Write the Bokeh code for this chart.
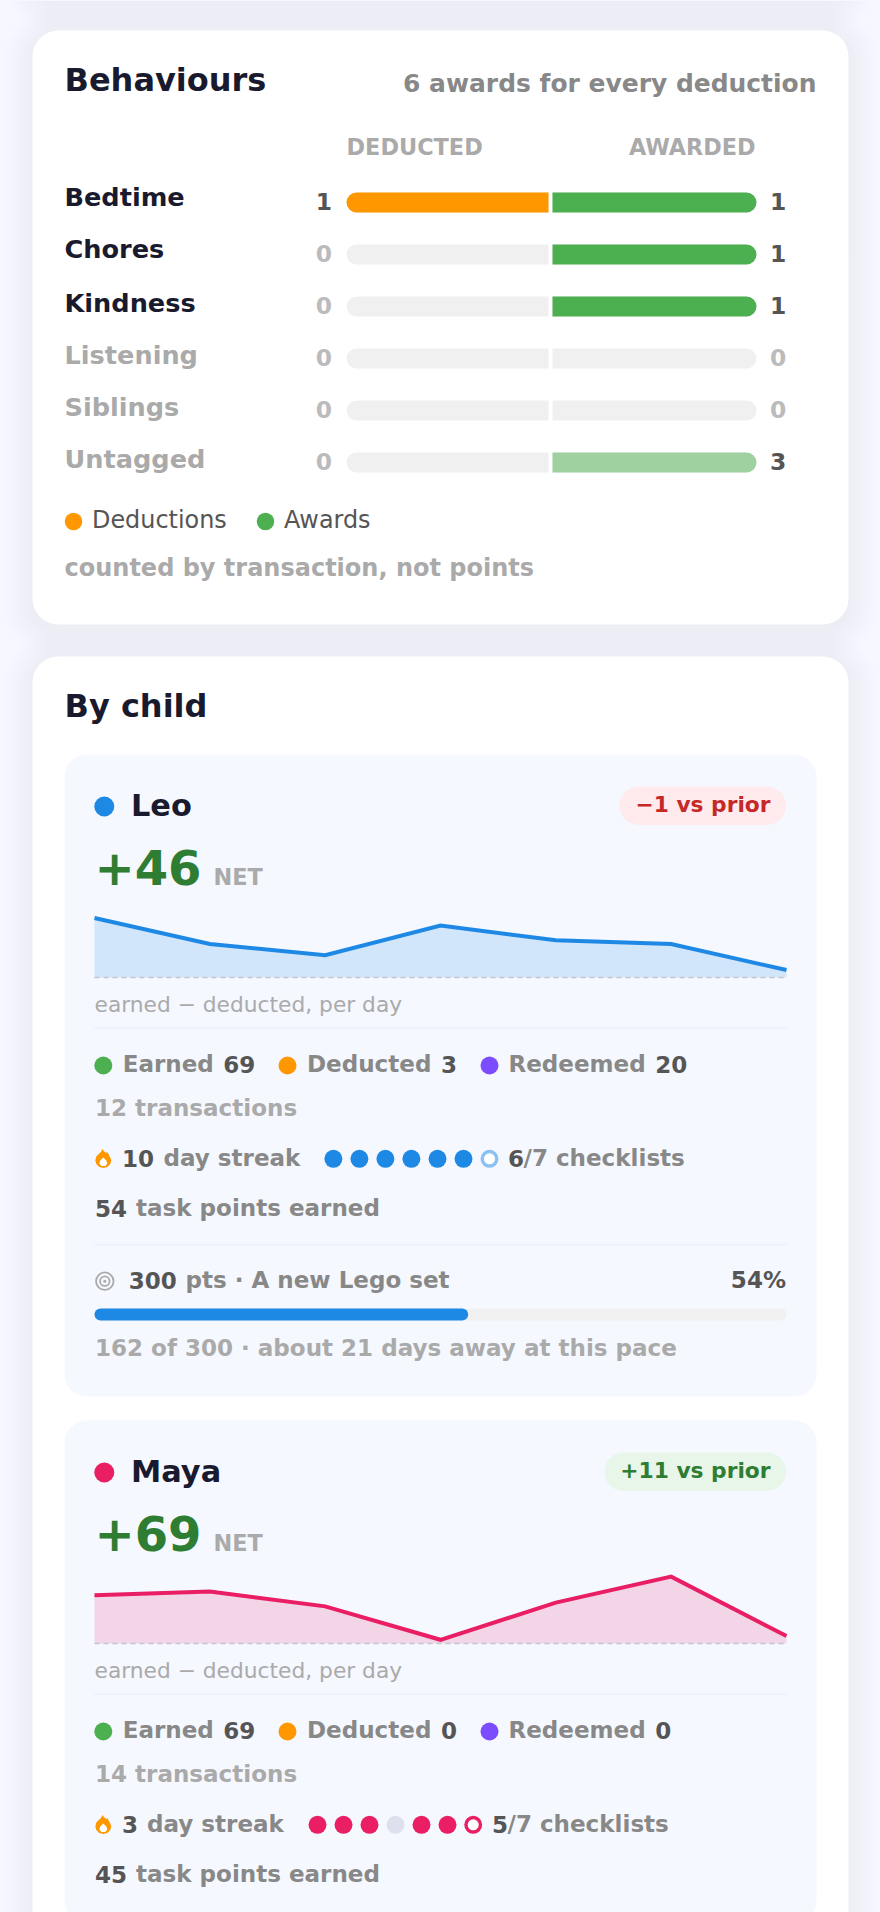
from bokeh.plotting import figure
from bokeh.embed import file_html
from bokeh.resources import INLINE
from bokeh.models import Range1d
from bokeh.core.properties import value

# ---- data ----
behaviours = ["Bedtime", "Chores", "Kindness", "Listening", "Siblings", "Untagged"]
deducted = [1, 0, 0, 0, 0, 0]
awarded = [1, 1, 1, 0, 0, 3]
ratio_note = "6 awards for every deduction"
days = [0, 1, 2, 3, 4, 5, 6]
leo_daily = [16, 9, 6, 14, 10, 9, 2]
maya_daily = [13, 14, 10, 1, 11, 18, 2]
leo_stats = {"net": "+46", "vs": "\u22121 vs prior", "earned": 69, "deducted": 3, "redeemed": 20,
             "tx": "12 transactions", "streak": "10", "checks": "6", "task": "54"}
maya_stats = {"net": "+69", "vs": "+11 vs prior", "earned": 69, "deducted": 0, "redeemed": 0,
              "tx": "14 transactions", "streak": "3", "checks": "5", "task": "45"}
leo_check_days = [1, 1, 1, 1, 1, 1, 0]
maya_check_days = [1, 1, 1, 0, 1, 1, 0]
goal_points = 162
goal_target = 300

BG = "#f7f8ff"; INNER = "#f5f8ff"; DARK = "#1a1a2e"; MUTE = "#aaaaaa"; MID = "#888888"; NUM = "#555555"
ORANGE = "#ff9800"; GREEN = "#4caf50"; PURPLE = "#7c4dff"; BLUE = "#1e88e5"; PINK = "#e91e63"
TRACK = "#f0f0f0"; RULE = "#eef0f7"; FG = "#2e7d32"
FONT = value("DejaVu Sans")
S = 23.04  # small bold text size

p = figure(width=880, height=1912, output_backend="svg", toolbar_location=None,
           x_range=Range1d(0, 880), y_range=Range1d(1912, 0), min_border=0,
           background_fill_color=BG, border_fill_color=BG, outline_line_color=None)
p.axis.visible = False
p.grid.visible = False

p.extra_x_ranges["ded"] = Range1d(548 / 202, (548 - 880) / 202)
p.extra_x_ranges["awd"] = Range1d(-552 / 204, (880 - 552) / 204)
p.extra_y_ranges["row"] = Range1d((1912 - 202) / 52, -202 / 52)
p.extra_x_ranges["day"] = Range1d(-94 / (692 / 6), (880 - 94) / (692 / 6))
p.extra_x_ranges["goal"] = Range1d(-94 / 692 * goal_target, (880 - 94) / 692 * goal_target)


def T(x, y, s, size, color, bold=True, align="left"):
    # the y given is the wanted baseline; Bokeh's SVG text sits 0.346 em below its anchor
    p.text(x=[x], y=[y - 0.346 * size], text=[s], text_font=FONT, text_font_size=value(f"{size}px"),
           text_color=color, text_font_style="bold" if bold else "normal",
           text_align=align, text_baseline="alphabetic")


def box(l, r, t, b, color, radius=0, alpha=1.0):
    p.quad(left=[l], right=[r], top=[t], bottom=[b], fill_color=color, fill_alpha=alpha,
           line_color=None, border_radius=radius)


def shadow(l, r, t, b):
    for d in range(30, 0, -3):
        box(l - d, r + d, t - d + 5, b + d + 5, "#2a2f66", 26 + d, 0.0045)


# ---- cards ----
shadow(32, 848, -300, -2)
box(32, 848, -300, -2, "#ffffff", 26)
shadow(32, 848, 30, 624)
box(32, 848, 30, 624, "#ffffff", 26)
shadow(32, 848, 656, 2400)
box(32, 848, 656, 2400, "#ffffff", 26)

# ---- behaviours ----
T(64, 91, "Behaviours", 32, DARK)
T(816, 92, ratio_note, 24.96, MID, align="right")
T(346, 154, "DEDUCTED", 22.4, MUTE)
T(628.5, 154, "AWARDED", 22.3, MUTE)

rows = list(range(len(behaviours)))
LBL_BASE = [205.5, 257.5, 311, 363.5, 415.5, 467.5]
for i in rows:
    active = deducted[i] + awarded[i] > 0 and behaviours[i] != "Untagged"
    T(64, LBL_BASE[i], behaviours[i], 25.6, DARK if active else MUTE)
    vy = 208.7 + 52 * i
    T(331.5, vy, str(deducted[i]), 23.4, NUM if deducted[i] else "#bbbbbb", align="right")
    T(769.5, vy, str(awarded[i]), 23.4, NUM if awarded[i] else "#bbbbbb")

p.hbar(y=rows, left=0, right=1, height=20 / 52, fill_color=TRACK, line_color=None,
       x_range_name="ded", y_range_name="row", border_radius=(10, 0, 0, 10))
p.hbar(y=rows, left=0, right=1, height=20 / 52, fill_color=TRACK, line_color=None,
       x_range_name="awd", y_range_name="row", border_radius=(0, 10, 10, 0))
for i in rows:
    if deducted[i]:
        p.hbar(y=[i], left=0, right=min(deducted[i], 1), height=20 / 52, fill_color=ORANGE, line_color=None,
               x_range_name="ded", y_range_name="row", border_radius=(10, 0, 0, 10))
    if awarded[i]:
        p.hbar(y=[i], left=0, right=min(awarded[i], 1), height=20 / 52, fill_color=GREEN, line_color=None,
               fill_alpha=0.5 if behaviours[i] == "Untagged" else 1.0,
               x_range_name="awd", y_range_name="row", border_radius=(0, 10, 10, 0))

p.scatter(x=[73], y=[521], size=17.5, fill_color=ORANGE, line_color=None)
T(91.5, 527.3, "Deductions", 23.9, NUM, bold=False)
p.scatter(x=[265], y=[521], size=17.5, fill_color=GREEN, line_color=None)
T(283.5, 527.3, "Awards", 23.9, NUM, bold=False)
T(64, 576, "counted by transaction, not points", 24, MUTE)

# ---- by child ----
T(64, 717, "By child", 32, DARK)

FLAME = [(-1, -9.5), (1, -7), (3, -5.5), (4, -6.5), (7, -1), (8, 2), (7, 5.5), (4, 8.5), (0, 9.5),
         (-4, 8.5), (-7, 5.5), (-8, 2), (-7, -2), (-4, -5), (-2, -7)]
FLAME_IN = [(0, -1), (3, 2), (4, 5), (2, 7.5), (-2, 7.5), (-4, 5), (-3, 2)]


def child(name, dy, color, daily, s, checks, dots_x, ring_alpha, streak_lbl_x, count_x, slash_x, pill_l, bottom):
    box(64, 816, 754 + dy, bottom, INNER, 22)
    p.scatter(x=[103.8], y=[806 + dy], size=20, fill_color=color, line_color=None)
    T(130.5, 815.5 + dy, name, 30.4, DARK)
    good = s["vs"].startswith("+")
    box(pill_l, 785.5, 786 + dy, 824.5 + dy, "#e8f5e9" if good else "#ffebee", 19)
    T(770, 811.2 + dy, s["vs"], 21.76, FG if good else "#c62828", align="right")
    T(94, 884 + dy, s["net"], 48, FG)
    T(213, 884 + dy, "NET", 22.4, MUTE)

    # sparkline on its own value scale
    rng = f"spark{name}"
    base = 977 + dy
    k = 3.715
    p.extra_y_ranges[rng] = Range1d((base - 1912) / k, base / k)
    p.varea(x=days, y1=daily, y2=[0] * len(days), fill_color=color, fill_alpha=0.16,
            x_range_name="day", y_range_name=rng)
    p.line(x=days, y=[0] * len(days), line_color="#c4c4cc", line_width=1.6, line_dash="5 4",
           x_range_name="day", y_range_name=rng)
    p.line(x=days, y=daily, line_color=color, line_width=4, line_join="miter",
           x_range_name="day", y_range_name=rng)

    T(94, 1011.7 + dy, "earned \u2212 deducted, per day", 21.76, MUTE, bold=False)
    box(94, 786, 1027 + dy, 1028.6 + dy, RULE)

    y = 1071.7 + dy
    for cx, col, lx, lab, nx, v in [(102.8, GREEN, 122.2, "Earned", 222.7, s["earned"]),
                                    (287, ORANGE, 306.5, "Deducted", 440.5, s["deducted"]),
                                    (489, PURPLE, 508, "Redeemed", 654.8, s["redeemed"])]:
        p.scatter(x=[cx], y=[1065 + dy], size=18, fill_color=col, line_color=None)
        T(lx, y, lab, S, MID)
        T(nx, y, str(v), S, NUM)
    T(94.5, 1115.3 + dy, s["tx"], S, MUTE)

    fy = 1158 + dy
    p.patch(x=[102.8 + a for a, _ in FLAME], y=[fy + b for _, b in FLAME], fill_color=ORANGE, line_color=None)
    p.patch(x=[102.8 + a for a, _ in FLAME_IN], y=[fy + b for _, b in FLAME_IN], fill_color="#ffffff", line_color=None)
    y = 1165.7 + dy
    T(121.5, y, s["streak"], S, NUM)
    T(streak_lbl_x, y, "day streak", S, MID)
    for cx, c in zip(dots_x[:-1], checks[:-1]):
        p.scatter(x=[cx], y=[1158.3 + dy], size=18, fill_color=color if c else "#dde1ee", line_color=None)
    p.scatter(x=[dots_x[-1]], y=[1158.3 + dy], size=14.5, fill_color="#ffffff", line_color=color,
              line_alpha=ring_alpha, line_width=3.4)
    T(count_x, y, s["checks"], S, NUM)
    T(slash_x, y, "/7 checklists", S, MID)
    T(94.5, 1215.7 + dy, s["task"], S, NUM)
    T(135.5, 1215.7 + dy, "task points earned", S, MID)


leo_dots = [332.9, 358.9, 384.9, 410.9, 437, 463, 489]
maya_dots = [317, 343, 369, 395, 421, 447, 472.7]
child("Leo", 0, BLUE, leo_daily, leo_stats, leo_check_days, leo_dots, 0.5, 163, 507.5, 523, 619, 1396)
child("Maya", 666, PINK, maya_daily, maya_stats, maya_check_days, maya_dots, 1.0, 146.5, 491.5, 507, 604, 1922)

# goal block
box(94, 786, 1243.5, 1245.1, RULE)
p.scatter(x=[104.3], y=[1280.7], size=17.5, fill_color=None, line_color=MUTE, line_width=1.8)
p.scatter(x=[104.3], y=[1280.7], size=9.5, fill_color=None, line_color=MUTE, line_width=1.8)
p.scatter(x=[104.3], y=[1280.7], size=3, fill_color=MUTE, line_color=None)
T(128.3, 1287.8, str(goal_target), S, NUM)
T(185, 1287.8, "pts \u00b7 A new Lego set", S, MID)
T(785.5, 1287.8, f"{round(100 * goal_points / goal_target)}%", S, NUM, align="right")
box(94, 786, 1308, 1320, TRACK, 6)
p.extra_y_ranges["goalrow"] = Range1d((1912 - 1314) / 12, -1314 / 12)
p.hbar(y=[0], left=[0], right=[goal_points], height=1, fill_color=BLUE, line_color=None,
       x_range_name="goal", y_range_name="goalrow", border_radius=6)
T(94.5, 1355.5, f"{goal_points} of {goal_target} \u00b7 about 21 days away at this pace", S, MUTE)

html = file_html(p, INLINE)
html = html.replace("</head>", f"<style>html,body{{margin:0!important;padding:0;background:{BG}}}</style></head>", 1)
open("out.html", "w").write(html)
